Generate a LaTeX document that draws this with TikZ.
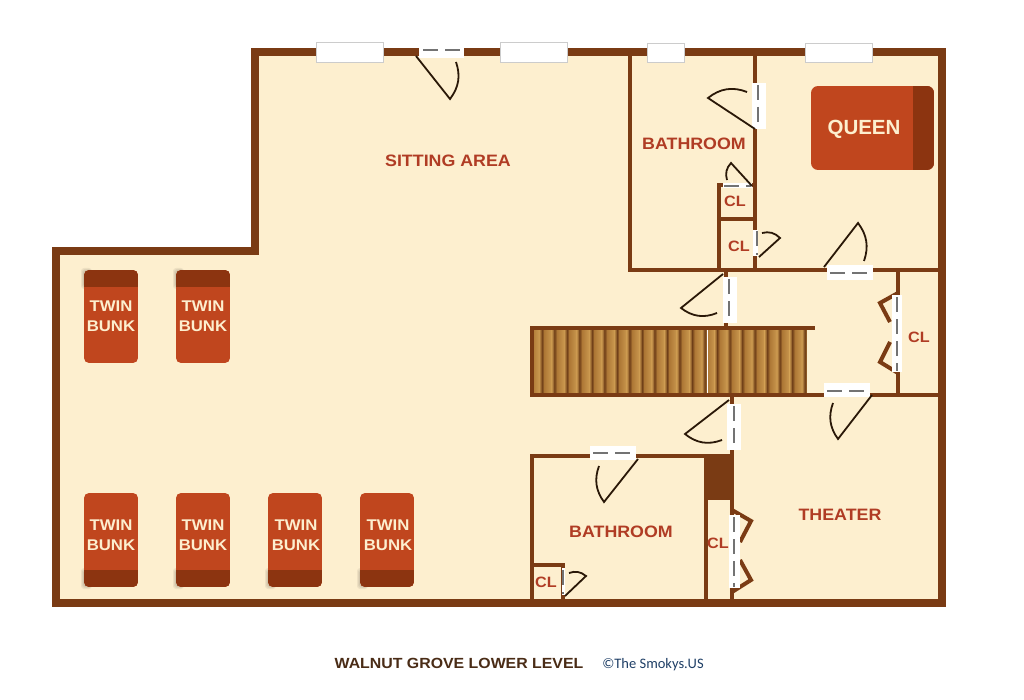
\documentclass[tikz,border=0pt]{standalone}
\usepackage{fontspec}
\newfontfamily\planfont[FakeStretch=1.08]{Liberation Sans}
\newfontfamily\queenfont{Liberation Sans}
\newfontfamily\creditfont{Carlito}
\definecolor{wallbrown}{HTML}{7A3B14}
\definecolor{floorcream}{HTML}{FDEFCF}
\definecolor{bedred}{HTML}{C0461E}
\definecolor{beddark}{HTML}{8C3410}
\definecolor{roomred}{HTML}{B03C24}
\definecolor{swingblack}{HTML}{2A1808}
\definecolor{treadlight}{HTML}{C9974E}
\definecolor{treadtan}{HTML}{AE7836}
\definecolor{treaddark}{HTML}{74431A}
\definecolor{titlebrown}{HTML}{4A2C16}
\definecolor{creditblue}{HTML}{1F3F66}
\begin{document}
\begin{tikzpicture}[x=1pt,y=-1pt,line join=miter,
wall/.style={draw=wallbrown,line width=4pt},
swing/.style={draw=swingblack,line width=1.8pt},
opening/.style={fill=white,draw=none},
slit/.style={draw=black!55,line width=1.2pt,dash pattern=on 15pt off 7pt},
pane/.style={fill=white,draw=black!20,line width=.5pt},
room/.style={text=roomred,font=\planfont\bfseries\fontsize{16.5}{18}\selectfont,inner sep=0pt},
closet/.style={text=roomred,font=\planfont\bfseries\fontsize{15}{17}\selectfont,inner sep=0pt},
bunk/.style={text=floorcream,align=center,inner sep=0pt,font=\planfont\bfseries\fontsize{15.5}{20.5}\selectfont},
]
\useasboundingbox (0,0) rectangle (1024,700);
\fill[white] (0,0) rectangle (1024,700);
% floor and outer walls
\draw[draw=wallbrown,line width=8pt,fill=floorcream] (255,52)--(942,52)--(942,603)--(56,603)--(56,251)--(255,251)--cycle;
% stairs
\foreach \tread in {0,...,21}{
 \shade[left color=treadtan,right color=treadlight] ({532+12.52*\tread},328) rectangle ++(7,67);
 \shade[left color=treadlight,right color=treaddark] ({539+12.52*\tread},328) rectangle ++(3,67);
 \shade[left color=treaddark,right color=treadtan] ({542+12.52*\tread},328) rectangle ++(2.6,67);
}
\fill[floorcream] (807,330) rectangle (826,393);
\draw[white,line width=.7pt] (707,330)--(707,393);
% inner walls
\draw[wall] (630,52)--(630,270)--(938,270);
\draw[wall] (755,52)--(755,270);
\draw[wall] (719,270)--(719,185)--(755,185);
\draw[wall] (719,219)--(755,219);
\draw[wall] (532,328)--(815,328);
\draw[wall] (532,326)--(532,396);
\draw[wall] (530,394.5)--(938,394.5);
\draw[wall] (898,270)--(898,395);
\draw[wall] (726,270)--(726,328);
\draw[wall] (732,395)--(732,603);
\draw[wall] (532,603)--(532,456)--(732,456);
\draw[wall] (706,456)--(706,603);
\fill[wallbrown] (704,456) rectangle (733,500);
\draw[wall] (532,565)--(563,565)--(563,603);
% folding doors
\draw[wall] (898,293)--(880,303)--(890,322);
\draw[wall] (890,342)--(880,362)--(898,373);
\draw[wall] (732,510)--(751,521)--(740,542);
\draw[wall] (740,560)--(751,580)--(732,592);
% windows
\draw[pane] (316,42) rectangle (383,62);
\draw[pane] (500,42) rectangle (567,62);
\draw[pane] (647,43) rectangle (684,62);
\draw[pane] (805,43) rectangle (872,62);
% door openings
\fill[opening] (419,44) rectangle (464,58);
\fill[opening] (752,83) rectangle (766,129);
\fill[opening] (723,183) rectangle (752,188);
\fill[opening] (753,230) rectangle (758,256);
\fill[opening] (827,265) rectangle (873,280);
\fill[opening] (723,277) rectangle (737,323);
\fill[opening] (892,295) rectangle (902,372);
\fill[opening] (824,383) rectangle (870,397);
\fill[opening] (727,404) rectangle (741,450);
\fill[opening] (590,446) rectangle (636,460);
\fill[opening] (729,515) rectangle (740,588);
\fill[opening] (562,568) rectangle (565,595);
% slits in the openings
\draw[slit] (423,50)--(461,50);
\draw[slit] (758,85)--(758,127);
\draw[slit] (724,186)--(751,186);
\draw[slit] (757,231)--(757,255);
\draw[slit] (830,273)--(871,273);
\draw[slit] (729,279)--(729,322);
\draw[slit] (897,297)--(897,371);
\draw[slit] (827,391)--(868,391);
\draw[slit] (734,406)--(734,449);
\draw[slit] (593,453)--(633,453);
\draw[slit] (734,517)--(734,587);
\draw[slit] (563,570)--(563,594);
% door swings
\draw[swing] (416,56)--(450,99) to[bend right=28] (456,62);
\draw[swing] (755,129)--(708,98) to[bend left=30] (747,92);
\draw[swing] (752,186)--(731,163) to[bend right=30] (727,180);
\draw[swing] (759,257)--(780,238) to[bend right=30] (762,233);
\draw[swing] (824,267)--(858,223) to[bend left=28] (864,261);
\draw[swing] (723,274)--(681,308) to[bend right=30] (717,313);
\draw[swing] (729,400)--(685,434) to[bend right=30] (722,440);
\draw[swing] (872,395)--(838,439) to[bend left=28] (833,403);
\draw[swing] (638,459)--(604,502) to[bend left=28] (599,466);
\draw[swing] (565,596)--(586,576) to[bend right=30] (569,573);
% beds
\foreach \bedx in {84,176}{
 \foreach \blur in {1,2,3}{
  \fill[black,opacity=.06,rounded corners=3pt] (\bedx-\blur,271-\blur) rectangle (\bedx+8,286+\blur);
 }
 \begin{scope}
 \clip[rounded corners=5pt] (\bedx,270) rectangle (\bedx+54,363);
 \fill[bedred] (\bedx,270) rectangle (\bedx+54,363);
 \fill[beddark] (\bedx,270) rectangle (\bedx+54,287);
 \end{scope}
}
\foreach \bedx in {84,176,268,360}{
 \foreach \blur in {1,2,3}{
  \fill[black,opacity=.06,rounded corners=3pt] (\bedx-\blur,571-\blur) rectangle (\bedx+8,586+\blur);
 }
 \begin{scope}
 \clip[rounded corners=5pt] (\bedx,493) rectangle (\bedx+54,587);
 \fill[bedred] (\bedx,493) rectangle (\bedx+54,587);
 \fill[beddark] (\bedx,570) rectangle (\bedx+54,587);
 \end{scope}
}
\begin{scope}
\clip[rounded corners=7pt] (811,86) rectangle (934,170);
\fill[bedred] (811,86) rectangle (934,170);
\fill[beddark] (913,86) rectangle (934,170);
\end{scope}
% labels
\node[bunk](bunk1) at (111,316){TWIN\\BUNK};
\node[bunk](bunk2) at (203,316){TWIN\\BUNK};
\node[bunk](bunk3) at (111,535){TWIN\\BUNK};
\node[bunk](bunk4) at (203,535){TWIN\\BUNK};
\node[bunk](bunk5) at (296,535){TWIN\\BUNK};
\node[bunk](bunk6) at (388,535){TWIN\\BUNK};
\node[text=floorcream,font=\queenfont\bfseries\fontsize{20.5}{22}\selectfont,inner sep=0pt](queen) at (864,129){QUEEN};
\node[room](sitting) at (448,161){SITTING AREA};
\node[room](bath1) at (694,144){BATHROOM};
\node[room](bath2) at (621,532){BATHROOM};
\node[room](theater) at (840,515){THEATER};
\node[closet](cl1) at (735,201){CL};
\node[closet](cl2) at (739,246){CL};
\node[closet](cl3) at (919,337){CL};
\node[closet](cl4) at (718,543){CL};
\node[closet](cl5) at (546,582){CL};
\node[text=titlebrown,font=\planfont\bfseries\fontsize{14.7}{16}\selectfont,inner sep=0pt](title) at (459,663){WALNUT GROVE LOWER LEVEL};
\node[text=creditblue,font=\creditfont\fontsize{14.5}{17}\selectfont,inner sep=0pt](credit) at (653,665){©The Smokys.US};
\end{tikzpicture}
\end{document}
